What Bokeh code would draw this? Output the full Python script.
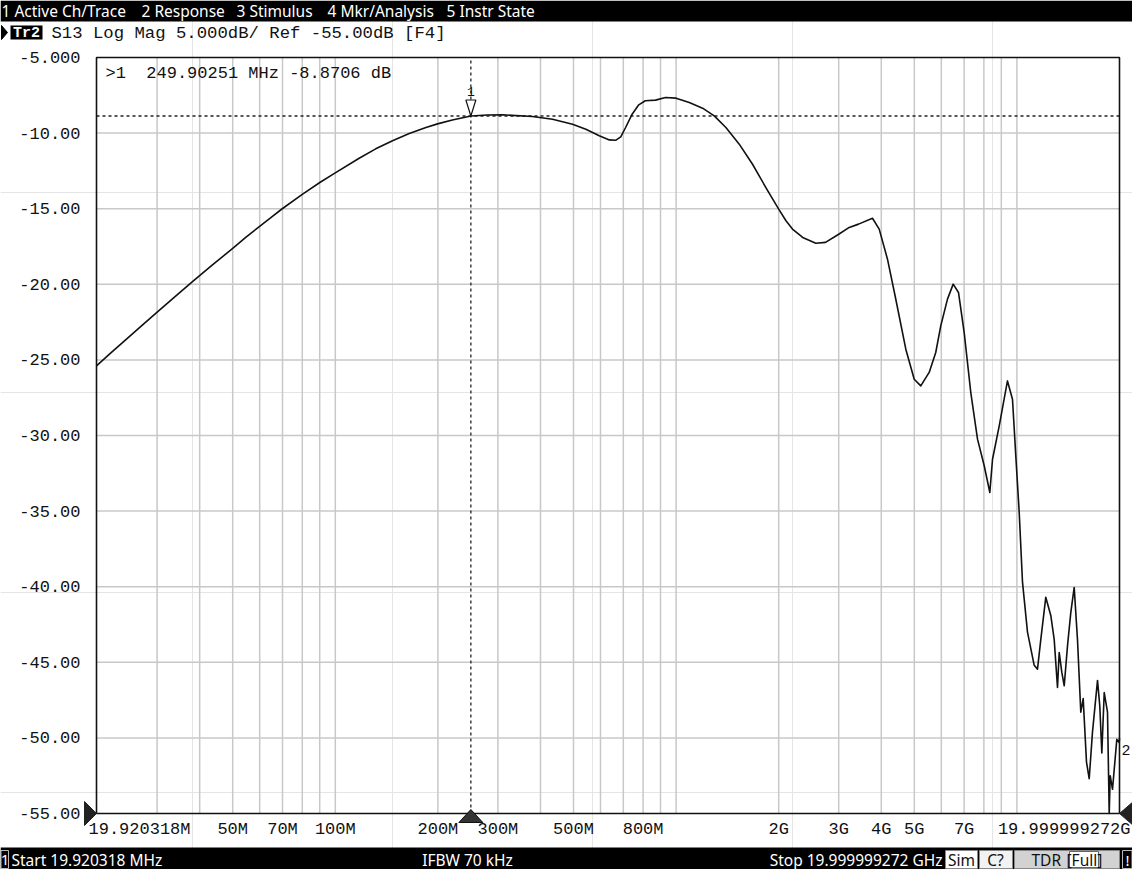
import math
from bokeh.plotting import figure
from bokeh.models import Range1d, LogScale
from bokeh.embed import file_html
from bokeh.resources import INLINE
from bokeh.core.properties import value

# ---------------- data ----------------
freq_mhz = [19.920318, 21.7, 24.3, 27.2, 29.9, 34.0, 38.1, 43.6, 49.9, 54.6, 60.1, 65.4, 69.7,
            80.0, 90.3, 99.7, 117.5, 131.4, 147.2, 164.8, 184.5, 199.5, 220.5, 249.90251, 279,
            309.6, 378.6, 434, 496.6, 543.6, 595, 637, 666, 688, 711, 743, 777, 812, 870, 931,
            1000, 1093, 1196, 1294, 1400, 1532, 1676, 1834, 2000, 2101, 2195, 2352, 2570, 2744,
            3000, 3221, 3430, 3769, 3944, 4171, 4412,
            4721, 4996, 5223, 5528, 5779, 5978, 6256, 6502, 6739, 7003, 7323, 7663, 8018,
            8328, 8481, 8874, 9382, 9706, 9925, 10157, 10385, 10741, 11239, 11492, 11751,
            12153, 12573, 12866, 13155, 13307, 13546, 13767, 14077, 14394, 14727, 15058,
            15398, 15649, 16003, 16297, 16665, 17239, 17508, 17748, 18039, 18443, 18657,
            18783, 19077, 19640, 19960, 19999.999272]
s13_db = [-25.4, -24.64, -23.66, -22.68, -21.87, -20.78, -19.83, -18.72, -17.64, -16.9, -16.15, -15.5, -15.02,
          -14.05, -13.25, -12.65, -11.66, -11.04, -10.5, -10.03, -9.63, -9.39, -9.13, -8.8706, -8.8,
          -8.79, -8.90, -9.08, -9.41, -9.74, -10.18, -10.45, -10.47, -10.25, -9.63, -8.75, -8.13, -7.86, -7.82, -7.65,
          -7.69, -7.98, -8.35, -8.86, -9.63, -10.73, -12.06, -13.6, -15.03, -15.8, -16.35, -16.9, -17.28, -17.23,
          -16.69, -16.24, -16.02, -15.63, -16.35, -18.34, -20.99,
          -24.29, -26.28, -26.72, -25.83, -24.51, -22.75, -20.98, -19.99, -20.54, -23.19, -27.16, -30.24, -32.0,
          -33.77, -31.57, -29.36, -26.39, -27.6, -31.35, -35.1, -39.7, -43.0, -45.2, -45.45, -43.5,
          -40.7, -41.9, -43.5, -46.67, -44.35, -45.67, -46.55, -43.9, -41.7, -40.05, -43.5,
          -48.3, -47.4, -51.6, -52.7, -49.6, -46.2, -47.9, -51.0, -47.0, -48.3, -55.0,
          -52.5, -53.4, -50.1, -50.3, -50.0]

start_mhz = 19.920318
stop_mhz = 19999.999272
ref_db = -55.0
div_db = 5.0
n_div = 10
top_db = ref_db + div_db * n_div
marker1_mhz = 249.90251
marker1_db = -8.8706
marker2_mhz = freq_mhz[-1]
marker2_db = s13_db[-1]

y_tick_db = [-5, -10, -15, -20, -25, -30, -35, -40, -45, -50, -55]
y_tick_labels = ["-5.000", "-10.00", "-15.00", "-20.00", "-25.00", "-30.00",
                 "-35.00", "-40.00", "-45.00", "-50.00", "-55.00"]
x_tick_mhz = [50, 70, 100, 200, 300, 500, 800, 2000, 3000, 4000, 5000, 7000]
x_tick_labels = ["50M", "70M", "100M", "200M", "300M", "500M", "800M",
                 "2G", "3G", "4G", "5G", "7G"]
grid_mhz = [30, 40, 50, 60, 70, 80, 90,
            100, 200, 300, 400, 500, 600, 700, 800, 900,
            1000, 2000, 3000, 4000, 5000, 6000, 7000, 8000, 9000, 10000]
menu_items = ["1 Active Ch/Trace", "2 Response", "3 Stimulus", "4 Mkr/Analysis", "5 Instr State"]
menu_x = [9, 149, 244, 335, 454]

# ---------------- layout (screen pixels of the window) ----------------
CX0, CX1, CY0, CY1 = 8, 1140, 8, 877
PL, PR, PT, PB = 104, 1127, 65, 821
D = math.log10(stop_mhz / start_mhz)
kdec = D / (PR - PL)               # decades per pixel
mdb = (top_db - ref_db) / (PB - PT)  # dB per pixel
f_lo = start_mhz * 10 ** ((CX0 - PL) * kdec)
f_hi = start_mhz * 10 ** ((CX1 - PL) * kdec)
db_lo = ref_db - (CY1 - PB) * mdb
db_hi = top_db + (PT - CY0) * mdb

MONO = value("Liberation Mono")
SANS = value("Noto Sans")
NB = "\u00a0"

p = figure(width=CX1 - CX0, height=CY1 - CY0, x_range=Range1d(CX0, CX1), y_range=Range1d(CY1, CY0),
           min_border=0, toolbar_location=None, output_backend="svg",
           x_axis_location=None, y_axis_location=None, title=None)
p.outline_line_color = None
p.background_fill_color = "white"
p.border_fill_color = "white"
p.extra_x_ranges = {"f": Range1d(f_lo, f_hi)}
p.extra_x_scales = {"f": LogScale()}
p.extra_y_ranges = {"db": Range1d(db_lo, db_hi)}
F = dict(x_range_name="f", y_range_name="db")

# ---- menu bar ----
p.quad(left=[CX0], right=[CX1], top=[CY0], bottom=[29], fill_color="black", line_color=None)
p.text(x=menu_x, y=[18] * len(menu_items), text=menu_items, text_color="white",
       text_font=SANS, text_font_size="15.5px", text_align="left", text_baseline="middle")

# ---- trace title line ----
p.patch(x=[9, 15, 9], y=[33, 40, 47], fill_color="black", line_color="black")
p.quad(left=[18], right=[50], top=[33], bottom=[47], fill_color="black", line_color=None)
p.text(x=[34], y=[40.5], text=["Tr2"], text_color="white", text_font=MONO, text_font_size="15px",
       text_font_style="bold", text_align="center", text_baseline="middle")
title_txt = f"S13 Log Mag {div_db:.3f}dB/ Ref {ref_db:.2f}dB [F4]"
p.text(x=[59], y=[41], text=[title_txt], text_color="#111111", text_font=MONO,
       text_font_size="17.3px", text_align="left", text_baseline="middle")

# ---- grid ----
n = len(grid_mhz)
p.segment(x0=grid_mhz, x1=grid_mhz, y0=[ref_db] * n, y1=[top_db] * n,
          line_color="#c8c8c8", line_width=1.5, **F)
hy = y_tick_db[1:-1]
p.segment(x0=[start_mhz] * len(hy), x1=[stop_mhz] * len(hy), y0=hy, y1=hy,
          line_color="#c8c8c8", line_width=1.5, **F)

# ---- marker lines ----
p.segment(x0=[marker1_mhz], x1=[marker1_mhz], y0=[ref_db], y1=[top_db],
          line_color="#222222", line_width=1.3, line_dash="3 3", **F)
p.segment(x0=[start_mhz], x1=[stop_mhz], y0=[marker1_db], y1=[marker1_db],
          line_color="#222222", line_width=1.3, line_dash="3 3", **F)

# ---- trace ----
p.line(freq_mhz, s13_db, line_color="#111111", line_width=1.6, line_join="round", **F)

# ---- plot border ----
p.quad(left=[start_mhz], right=[stop_mhz], bottom=[ref_db], top=[top_db],
       fill_color=None, line_color="#111111", line_width=1.6, **F)

# ---- marker 1 symbol ----
kx = 10 ** (5 * kdec)
p.patch(x=[marker1_mhz / kx, marker1_mhz * kx, marker1_mhz],
        y=[marker1_db + 16 * mdb, marker1_db + 16 * mdb, marker1_db],
        fill_color="white", line_color="#111111", line_width=1.2, **F)
p.text(x=[marker1_mhz], y=[marker1_db], text=["1"], y_offset=-25, text_font=MONO,
       text_font_size="13px", text_align="center", text_baseline="middle", text_color="#111111", **F)
readout = f">1{NB}{NB}{marker1_mhz:.5f}{NB}MHz{NB}{marker1_db:.4f}{NB}dB"
p.text(x=[113], y=[81], text=[readout], text_font=MONO, text_font_size="17px",
       text_align="left", text_baseline="middle", text_color="#111111")

# marker 2 label
p.text(x=[marker2_mhz], y=[marker2_db], text=["2"], x_offset=2, y_offset=12, text_font=MONO,
       text_font_size="15px", text_align="left", text_baseline="middle", text_color="#111111", **F)

# stimulus marker triangle on the x axis
kt = 10 ** (12 * kdec)
p.patch(x=[marker1_mhz / kt, marker1_mhz * kt, marker1_mhz],
        y=[ref_db - 9 * mdb, ref_db - 9 * mdb, ref_db + 4 * mdb],
        fill_color="#333333", line_color="#111111", line_width=1, **F)

# reference level pointers
p.patch(x=[92, 104, 92], y=[809, 821, 833], fill_color="#222222", line_color="#222222")
p.patch(x=[1127, 1142, 1142], y=[821, 808, 834], fill_color="#222222", line_color="#222222")

# ---- axis labels ----
p.text(x=[88] * len(y_tick_db), y=y_tick_db, text=y_tick_labels, text_font=MONO,
       text_font_size="17px", text_align="right", text_baseline="middle", text_color="#111111",
       y_range_name="db")
p.text(x=x_tick_mhz, y=[ref_db] * len(x_tick_mhz), text=x_tick_labels, y_offset=16,
       text_font=MONO, text_font_size="17px", text_align="center", text_baseline="middle",
       text_color="#111111", **F)
p.text(x=[start_mhz], y=[ref_db], text=[f"{start_mhz:.6f}M"], x_offset=-8, y_offset=16,
       text_font=MONO, text_font_size="17px", text_align="left", text_baseline="middle",
       text_color="#111111", **F)
p.text(x=[stop_mhz], y=[ref_db], text=[f"{stop_mhz/1000:.9f}G"], x_offset=11, y_offset=16,
       text_font=MONO, text_font_size="17px", text_align="right", text_baseline="middle",
       text_color="#111111", **F)

# ---- status bar ----
p.quad(left=[CX0], right=[CX1], top=[855], bottom=[CY1], fill_color="black", line_color=None)
p.quad(left=[8.5], right=[16], top=[858], bottom=[876], fill_color="black", line_color="#bbbbbb", line_width=1)
p.text(x=[12.5], y=[867], text=["1"], text_color="white", text_font=SANS, text_font_size="15px",
       text_align="center", text_baseline="middle")
p.text(x=[19], y=[867], text=[f"Start {start_mhz:.6f} MHz"], text_color="white", text_font=SANS,
       text_font_size="15.5px", text_align="left", text_baseline="middle")
p.text(x=[475], y=[867], text=["IFBW 70 kHz"], text_color="white", text_font=SANS,
       text_font_size="15.5px", text_align="center", text_baseline="middle")
p.text(x=[950], y=[867], text=[f"Stop {stop_mhz/1000:.9f} GHz"], text_color="white", text_font=SANS,
       text_font_size="15.5px", text_align="right", text_baseline="middle")
p.quad(left=[953, 987, 1022], right=[985, 1020, 1127], top=[858] * 3, bottom=[876] * 3,
       fill_color=["white", "#f2f2f2", "#d2d2d2"], line_color="#888888", line_width=1)
p.quad(left=[1077], right=[1106], top=[859], bottom=[875], fill_color="white",
       line_color="#666666", line_width=1)
p.text(x=[969, 1003], y=[867, 867], text=["Sim", "C?"], text_color="#111111", text_font=SANS,
       text_font_size="15.5px", text_align="center", text_baseline="middle")
p.text(x=[1039, 1074], y=[867, 867], text=["TDR", "[Full]"], text_color="#111111", text_font=SANS,
       text_font_size="15.5px", text_align="left", text_baseline="middle")
p.quad(left=[1130], right=[1139.5], top=[858], bottom=[876], fill_color="black",
       line_color="#bbbbbb", line_width=1)
p.text(x=[1135], y=[867], text=["!"], text_color="white", text_font=SANS, text_font_size="15px",
       text_align="center", text_baseline="middle")

open("out.html", "w").write(file_html(p, INLINE))
